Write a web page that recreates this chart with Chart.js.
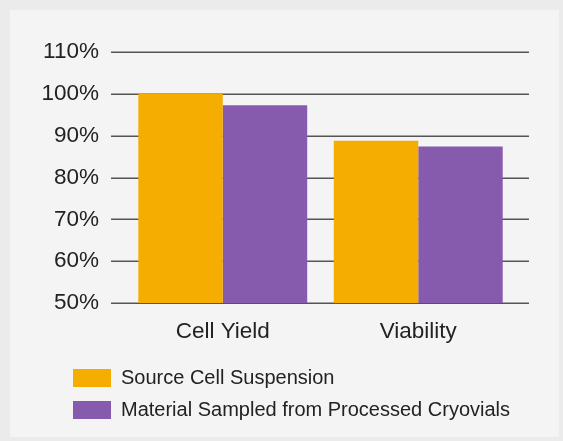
<!DOCTYPE html>
<html>
<head>
<meta charset="utf-8">
<script src="https://cdn.jsdelivr.net/npm/chart.js@4/dist/chart.umd.min.js"></script>
<style>
  html, body { margin: 0; padding: 0; background: #ebebeb; }
  #frame { position: relative; width: 563px; height: 441px; overflow: hidden; }
  #panel { position: absolute; left: 10px; top: 10px; right: 4px; bottom: 4px; background: #f4f4f4; }
  #chart { position: absolute; left: 0; top: 0; }
</style>
</head>
<body>
<div id="frame">
  <div id="panel"></div>
  <canvas id="chart" width="563" height="441"></canvas>
</div>
<script>
// Categories and series
const categories = ['Cell Yield', 'Viability'];
const seriesNames = ['Source Cell Suspension', 'Material Sampled from Processed Cryovials'];
const sourceValues = [100, 88.8];
const cryovialValues = [97.3, 87.4];

// Percent axis
const yMin = 50;
const yMax = 110;
const yStep = 10;

const FONT = '"Liberation Sans", Arial, Helvetica, sans-serif';
const TEXT = '#222222';

// Horizontal rules drawn from the y scale ticks, running a little past the plot area on both sides
const ruleLines = {
  id: 'ruleLines',
  beforeDatasetsDraw(chart) {
    const { ctx, chartArea, scales } = chart;
    const y = scales.y;
    ctx.save();
    ctx.strokeStyle = '#555555';
    ctx.lineWidth = 1.5;
    y.ticks.forEach(t => {
      const py = Math.round(y.getPixelForValue(t.value)) + 0.25;
      ctx.beginPath();
      ctx.moveTo(chartArea.left - 14, py);
      ctx.lineTo(chartArea.right + 13, py);
      ctx.stroke();
    });
    ctx.restore();
  }
};

// Indent the legend block so it starts under the plot rather than under the tick labels
const legendIndent = {
  id: 'legendIndent',
  afterLayout(chart) {
    if (chart.legend) chart.legend.left = 61;
  }
};

new Chart(document.getElementById('chart'), {
  type: 'bar',
  data: {
    labels: categories,
    datasets: [
      { label: seriesNames[0], data: sourceValues, backgroundColor: '#f4ad00', borderWidth: 0 },
      { label: seriesNames[1], data: cryovialValues, backgroundColor: '#865bae', borderWidth: 0 }
    ]
  },
  options: {
    responsive: false,
    animation: false,
    devicePixelRatio: 1,
    layout: { padding: { left: 38, right: 47, top: 52, bottom: 11 } },
    datasets: { bar: { categoryPercentage: 0.864, barPercentage: 1.0, base: yMin } },
    scales: {
      x: {
        grid: { display: false, drawTicks: false },
        border: { display: false },
        ticks: { color: TEXT, font: { family: FONT, size: 22.5 }, padding: 15 },
        afterFit(scale) { scale.height = 53; }
      },
      y: {
        min: yMin,
        max: yMax,
        grid: { display: false, drawTicks: false },
        border: { display: false },
        ticks: {
          stepSize: yStep,
          color: TEXT,
          font: { family: FONT, size: 22.5 },
          padding: 26,
          callback: v => v + '%'
        },
        afterFit(scale) { scale.width = 87; }
      }
    },
    plugins: {
      legend: {
        position: 'bottom',
        align: 'start',
        labels: {
          boxWidth: 38,
          boxHeight: 18,
          padding: 12,
          color: TEXT,
          font: { family: FONT, size: 20 }
        }
      },
      tooltip: { enabled: false }
    }
  },
  plugins: [ruleLines, legendIndent]
});
</script>
</body>
</html>
